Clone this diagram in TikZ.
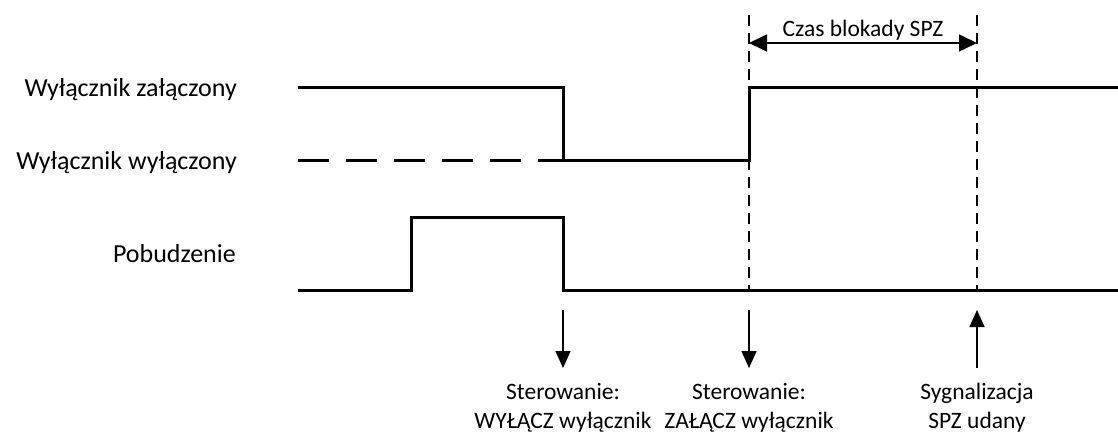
\documentclass[tikz,border=0pt]{standalone}
\usepackage{fontspec}
\setmainfont{Carlito}
\usetikzlibrary{arrows.meta}
\begin{document}
\begin{tikzpicture}[x=1pt,y=-1pt,
  wave/.style={line width=3pt, line join=miter},
  guide/.style={line width=1.5pt, dash pattern=on 11pt off 7pt},
  sig/.style={line width=1.5pt, -{Triangle[width=15pt,length=17pt]}},
  lbl/.style={font=\fontsize{26}{30}\selectfont, inner sep=0pt, anchor=base east},
  toplbl/.style={font=\fontsize{23.5}{30}\selectfont, inner sep=0pt, anchor=base},
  captext/.style={font=\fontsize{23.5}{29}\selectfont, inner sep=0pt, align=center, anchor=north}]
\useasboundingbox (0,0) rectangle (1118,435);
% left labels
\node[lbl] (lz) at (237,97) {Wyłącznik załączony};
\node[lbl] (lw) at (237,170) {Wyłącznik wyłączony};
\node[lbl] (lp) at (236,263) {Pobudzenie};
% breaker waveform
\draw[wave] (298,88) -- (563,88) -- (563,161) -- (749,161) -- (749,88) -- (1118,88);
\draw[wave, dash pattern=on 31pt off 17pt] (298,161) -- (563,161);
% excitation waveform
\draw[wave] (298,291) -- (411,291) -- (411,218) -- (563,218) -- (563,291) -- (1118,291);
% guides
\draw[guide] (749,15) -- (749,291);
\draw[guide] (977,15) -- (977,291);
\coordinate (ga) at (749,43);
\coordinate (gb) at (977,43);
\draw[line width=1.5pt, {Triangle[width=17pt,length=18pt]}-{Triangle[width=17pt,length=18pt]}] (ga) -- (gb);
\node[toplbl] (czas) at (863,37) {Czas blokady SPZ};
% bottom signals
\coordinate (a1) at (563,310);
\coordinate (a2) at (749,310);
\coordinate (a3) at (977,310);
\node[captext] (c1) at (563,383) {Sterowanie:\\WYŁĄCZ wyłącznik};
\node[captext] (c2) at (749,383) {Sterowanie:\\ZAŁĄCZ wyłącznik};
\node[captext] (c3) at (977,383) {Sygnalizacja\\SPZ udany};
\draw[sig] (a1) -- (563,368);
\draw[sig] (a2) -- (749,368);
\draw[sig] (977,368) -- (a3);
\end{tikzpicture}
\end{document}
